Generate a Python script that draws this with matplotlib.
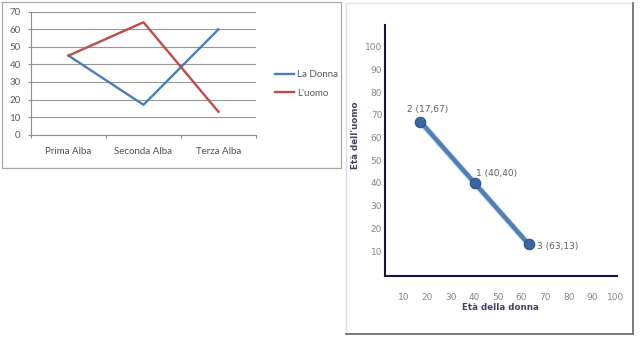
import matplotlib
matplotlib.use("Agg")
import matplotlib.pyplot as plt
from matplotlib.lines import Line2D

# ---- data ----
albe = ["Prima Alba", "Seconda Alba", "Terza Alba"]
la_donna = [45, 17, 60]
l_uomo = [45, 64, 13]

punti_id = ["2", "1", "3"]
eta_donna = [17, 40, 63]
eta_uomo = [67, 40, 13]

left_yticks = list(range(0, 71, 10))
right_ticks = list(range(10, 101, 10))

W, H = 640, 340
fig = plt.figure(figsize=(W / 100, H / 100), dpi=100)
fig.patch.set_facecolor("white")


def rect(x0, y0, x1, y1):
    """pixel box (top-left origin) -> figure fraction [l, b, w, h]"""
    return [x0 / W, 1 - y1 / H, (x1 - x0) / W, (y1 - y0) / H]


def fline(xs, ys, color, lw):
    fig.add_artist(Line2D([x / W for x in xs], [1 - y / H for y in ys],
                          transform=fig.transFigure, color=color, lw=lw))


# ---- panel frames ----
fline([2, 341, 341, 2, 2], [2, 2, 168, 168, 2], "#a8a8a8", 0.9)
fline([346, 346], [334, 3], "#dedede", 1.0)
fline([346, 633], [3, 3], "#e6e6e6", 1.0)
fline([633, 633], [3, 334], "#6e6e6e", 1.3)
fline([346, 633], [334, 334], "#6e6e6e", 1.3)

# ---- left chart: lines per alba ----
ax1 = fig.add_axes(rect(31, 11.7, 256, 134.7))
x = list(range(len(albe)))
ax1.plot(x, la_donna, color="#4a7ebb", lw=1.7, label="La Donna", zorder=3)
ax1.plot(x, l_uomo, color="#be4b48", lw=1.7, label="L'uomo", zorder=3)
ax1.set_xlim(-0.5, 2.5)
ax1.set_ylim(0, 70)
ax1.set_yticks(left_yticks)
ax1.grid(axis="y", color="#969696", lw=0.8)
ax1.set_axisbelow(True)
ax1.set_xticks([-0.5, 0.5, 1.5, 2.5])
ax1.set_xticklabels([])
ax1.set_xticks(x, minor=True)
ax1.set_xticklabels(albe, minor=True)
for s in ["top", "right"]:
    ax1.spines[s].set_visible(False)
for s in ["left", "bottom"]:
    ax1.spines[s].set_color("#8c8c8c")
    ax1.spines[s].set_linewidth(0.8)
ax1.tick_params(axis="y", length=2.5, width=0.8, color="#8c8c8c", pad=5,
                labelsize=7, labelcolor="#595959")
ax1.tick_params(axis="x", which="major", length=2.5, width=0.8, color="#8c8c8c")
ax1.tick_params(axis="x", which="minor", length=0, pad=9,
                labelsize=7, labelcolor="#5a4a5e")
for lab in ax1.get_yticklabels() + ax1.get_xticklabels(minor=True):
    lab.set_family(["Lato", "DejaVu Sans"])
ax1.legend(loc="center left", bbox_to_anchor=(270 / W, 1 - 84 / H),
           bbox_transform=fig.transFigure, frameon=False, borderpad=0,
           handlelength=2.0, handletextpad=0.3, labelspacing=0.95,
           prop={"family": ["Lato", "DejaVu Sans"], "size": 7},
           labelcolor="#595959")

# ---- right chart: ages scatter ----
ax2 = fig.add_axes(rect(385, 25, 617, 276))
ax2.set_xlim(2, 100.5)
ax2.set_ylim(-1, 109.5)
ax2.plot(eta_donna, eta_uomo, color="#b8c8dc", lw=4.5, alpha=0.6,
         solid_capstyle="round", zorder=2,
         transform=ax2.transData + matplotlib.transforms.ScaledTranslation(
             1 / 100, -1.5 / 100, fig.dpi_scale_trans))
ax2.plot(eta_donna, eta_uomo, color="#4f7fb8", lw=3.2, zorder=3,
         solid_capstyle="round")
ax2.plot(eta_donna, eta_uomo, "o", ms=7.5, mfc="#3a67a3", mec="#2a4f82",
         mew=0.8, zorder=4)
offsets = [(5.5, 9), (16, 7), (21, -2)]
for pid, xd, yd, off in zip(punti_id, eta_donna, eta_uomo, offsets):
    ax2.annotate(f"{pid} ({xd},{yd})", (xd, yd), xytext=off,
                 textcoords="offset points", ha="center", va="center",
                 fontsize=6.5, color="#606060")
ax2.set_xticks(right_ticks)
ax2.set_yticks(right_ticks)
for s in ["top", "right"]:
    ax2.spines[s].set_visible(False)
for s in ["left", "bottom"]:
    ax2.spines[s].set_color("#16163c")
    ax2.spines[s].set_linewidth(1.5)
ax2.tick_params(axis="both", length=0, labelsize=6.5, labelcolor="#858585")
ax2.tick_params(axis="x", pad=12)
ax2.tick_params(axis="y", pad=2)
fig.text(500 / W, 1 - 308 / H, "Età della donna", ha="center", va="center",
         fontsize=6.3, fontweight="bold", color="#4b3d66")
fig.text(355 / W, 1 - 135 / H, "Età dell'uomo", ha="center", va="center",
         rotation=90, fontsize=6.3, fontweight="bold", color="#4b3d66")

fig.savefig("out.png", dpi=100, facecolor="white")
